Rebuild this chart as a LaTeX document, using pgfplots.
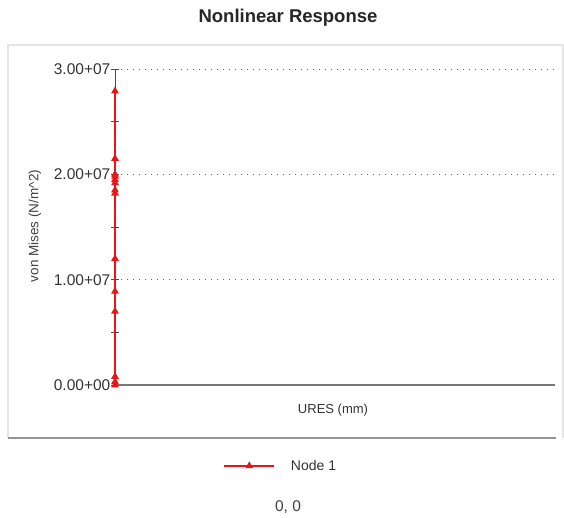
\documentclass[border=0pt]{standalone}
\usepackage{pgfplots}
\pgfplotsset{compat=1.18}
\usepackage{fontspec}
\setmainfont{Liberation Sans}
\definecolor{axgray}{RGB}{120,120,120}
\definecolor{framegray}{RGB}{228,228,228}
\definecolor{gridgray}{RGB}{100,100,100}
\definecolor{plotred}{RGB}{235,20,20}
\begin{document}
\begin{tikzpicture}
\path[use as bounding box] (0,0) rectangle (564bp,-518bp);
\draw[framegray, line width=1.2bp] (8bp,-438bp) -- (8bp,-45bp) -- (563bp,-45bp) -- (563bp,-438bp);
\draw[axgray!80, line width=1.5bp] (8bp,-438bp) -- (556bp,-438bp);
\node[font=\fontsize{18.5bp}{22bp}\selectfont\bfseries, text=black!85] at (288bp,-18bp) {Nonlinear Response};
\node[font=\fontsize{13.5bp}{16bp}\selectfont, text=black!75, rotate=90] at (35bp,-226bp) {von Mises (N/m\^{}2)};
\node[font=\fontsize{13bp}{16bp}\selectfont, text=black!80] at (333bp,-410bp) {URES (mm)};
\node[font=\fontsize{15.5bp}{18bp}\selectfont, text=black!75] at (288bp,-507bp) {0, 0};
\begin{axis}[
  at={(115bp,-385bp)}, anchor=south west,
  scale only axis, width=440bp, height=316bp,
  xmin=0, xmax=1, ymin=0, ymax=3e7,
  axis x line*=bottom, axis y line*=left,
  x axis line style={axgray, line width=1.8bp, -},
  y axis line style={draw=none, -},
  xtick=\empty,
  scaled y ticks=false,
  ytick={0,1e7,2e7,3e7},
  yticklabels={0.00+00,1.00+07,2.00+07,3.00+07},
  minor ytick={0.5e7,1.5e7,2.5e7},
  tick align=center,
  major tick length=8bp, minor tick length=8bp,
  tick style={black!70, line width=0.8bp},
  ymajorgrids,
  major grid style={gridgray, dash pattern=on 1.2bp off 4.8bp, line width=0.9bp},
  yticklabel style={font=\fontsize{15.5bp}{18bp}\selectfont, text=black!80, inner sep=0.5bp},
  /pgf/number format/assume math mode=true,
  clip=false,
  legend style={at={(0.377,-0.256)}, anchor=center, draw=none, fill=none,
    font=\fontsize{14bp}{17bp}\selectfont, text=black!80,
    legend cell align=left},
  legend image code/.code={\draw[mark repeat=2,mark phase=2] plot coordinates {(0bp,0bp) (25bp,0bp) (50bp,0bp)};\path (64bp,0bp);},
]
\addplot[black!70, line width=0.9bp, forget plot] coordinates {(0,0) (0,3e7)};
\addplot[color=plotred, draw=plotred, solid, line width=1.3bp, mark=triangle*, mark size=3.2bp, mark options={fill=plotred, draw=plotred}]
  coordinates {
  (0,0) (0,0.03e7) (0,0.08e7) (0,0.70e7) (0,0.89e7) (0,1.20e7)
  (0,1.82e7) (0,1.85e7) (0,1.92e7) (0,1.95e7) (0,1.98e7) (0,2.00e7)
  (0,2.15e7) (0,2.79e7)
  };
\legend{Node 1}
\end{axis}
\end{tikzpicture}
\end{document}
